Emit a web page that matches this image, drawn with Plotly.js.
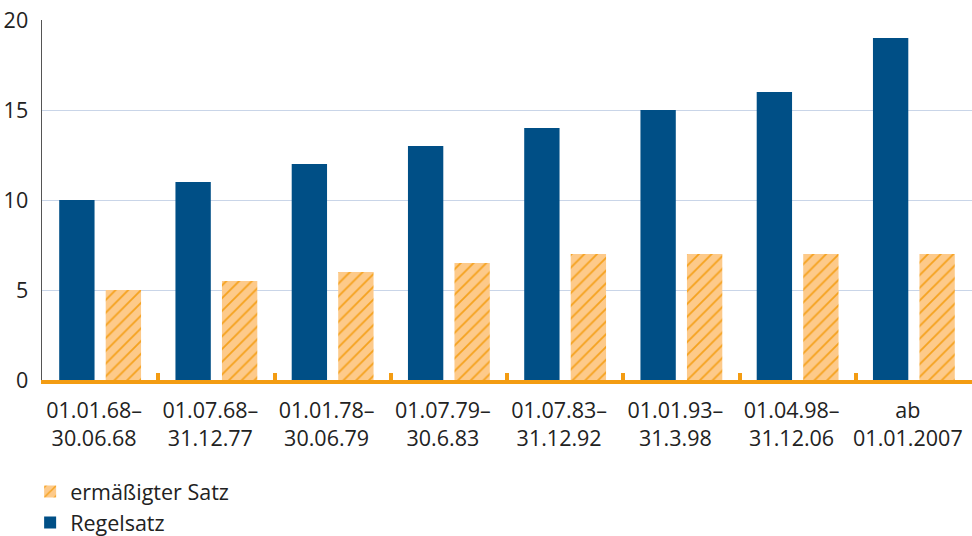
<!DOCTYPE html>
<html><head><meta charset="utf-8">
<script src="https://cdn.plot.ly/plotly-3.0.1.min.js"></script>
<style>body{margin:0}#c{width:972px;height:536px}</style>
</head><body><div id="c"></div>
<script>
const categories = ["01.01.68–<br>30.06.68","01.07.68–<br>31.12.77","01.01.78–<br>30.06.79","01.07.79–<br>30.6.83","01.07.83–<br>31.12.92","01.01.93–<br>31.3.98","01.04.98–<br>31.12.06","ab<br>01.01.2007"];
const regelsatz = [10,11,12,13,14,15,16,19];
const ermaessigt = [5,5.5,6,6.5,7,7,7,7];
const yTicks = [0,5,10,15,20];

const data = [
  {type:'bar', x:categories, y:regelsatz, name:'Regelsatz', marker:{color:'#004f86', line:{width:0}}},
  {type:'bar', x:categories, y:ermaessigt, name:'ermäßigter Satz',
   marker:{color:'#fdca8a', line:{width:0}, pattern:{shape:'/', bgcolor:'#fdca8a', fgcolor:'#f5a21e', size:9, solidity:0.2, fillmode:'replace'}}}
];
const layout = {
  width:972, height:536,
  margin:{l:42, r:0, t:20, b:156, autoexpand:false},
  font:{family:'"Open Sans", "Noto Sans", sans-serif', size:21.5, color:'#222'},
  paper_bgcolor:'#fff', plot_bgcolor:'#fff',
  barmode:'group', bargap:0.2, bargroupgap:0.24,
  showlegend:true,
  legend:{orientation:'v', traceorder:'reversed', xref:'container', yref:'container', x:0.031, y:0.121, xanchor:'left', yanchor:'top', font:{size:21.5, color:'#222'}, tracegroupgap:0, itemwidth:30},
  xaxis:{type:'category', tickangle:0, showline:true, linecolor:'#f39c12', linewidth:4, ticks:'inside', tickson:'boundaries', tickcolor:'#f39c12', tickwidth:4, ticklen:7, showgrid:false, zeroline:false, ticklabelstandoff:8, ticklabelshift:-6, tickfont:{size:21.5, color:'#222'}, fixedrange:true, automargin:false},
  yaxis:{range:[0,20], tickvals:yTicks, showgrid:true, gridcolor:'#c9d5e8', gridwidth:1, showline:true, linecolor:'#555', linewidth:1.5, zeroline:false, ticks:'', ticklabelstandoff:8, tickfont:{size:21.5, color:'#222'}, fixedrange:true, automargin:false}
};
Plotly.newPlot('c', data, layout, {displayModeBar:false, staticPlot:true});
</script></body></html>
